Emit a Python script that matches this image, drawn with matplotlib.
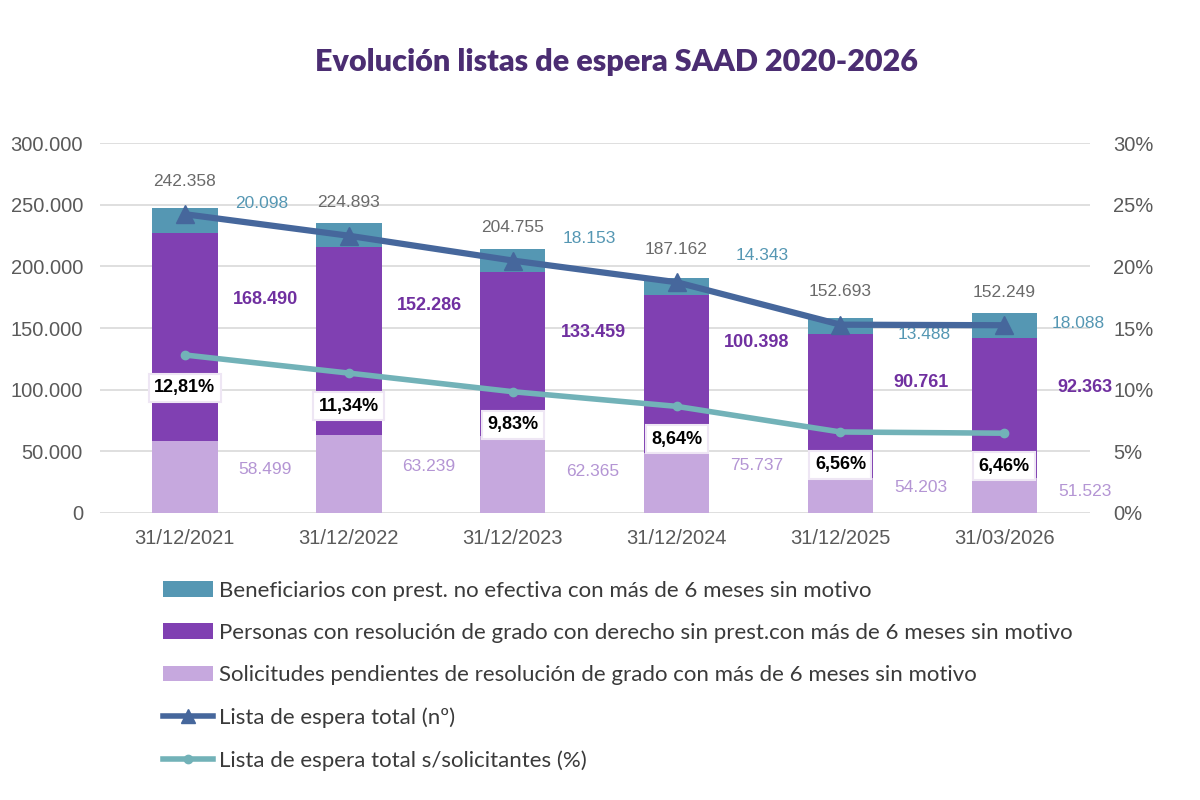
import matplotlib
matplotlib.use("Agg")
import matplotlib.pyplot as plt
from matplotlib.patches import Patch
from matplotlib.lines import Line2D
from matplotlib.ticker import FuncFormatter, MultipleLocator

# ---------------- data ----------------
categories = ["31/12/2021", "31/12/2022", "31/12/2023", "31/12/2024", "31/12/2025", "31/03/2026"]
solicitudes = [58499, 63239, 62365, 48900, 28100, 28000]
personas = [168490, 152286, 133459, 127900, 117000, 113600]
beneficiarios = [20098, 19500, 18153, 13500, 12800, 20300]
total_lista = [242358, 224893, 204755, 187162, 152693, 152249]
pct_lista = [12.81, 11.34, 9.83, 8.64, 6.56, 6.46]

solicitudes_labels = ["58.499", "63.239", "62.365", "75.737", "54.203", "51.523"]
personas_labels = ["168.490", "152.286", "133.459", "100.398", "90.761", "92.363"]
beneficiarios_labels = ["20.098", "19.368", "18.153", "14.343", "13.488", "18.088"]
total_labels = ["242.358", "224.893", "204.755", "187.162", "152.693", "152.249"]
pct_labels = ["12,81%", "11,34%", "9,83%", "8,64%", "6,56%", "6,46%"]

legend_labels = [
    "Beneficiarios con prest. no efectiva con más de 6 meses sin motivo",
    "Personas con resolución de grado con derecho sin prest.con más de 6 meses sin motivo",
    "Solicitudes pendientes de resolución de grado con más de 6 meses sin motivo",
    "Lista de espera total (nº)",
    "Lista de espera total s/solicitantes (%)",
]

# ---------------- layout (label placement) ----------------
ben_label_xoff = [0.47, 0.0, 0.47, 0.52, 0.51, 0.45]
ben_label_y = [250800, 228000, 223000, 209000, 145000, 154000]
pers_label_y = [172900, 168000, 146000, 138000, 105600, 101600]
sol_label_y = [35100, 37500, 33500, 38400, 20500, 17300]

# ---------------- style ----------------
c_ben = "#5597B3"
c_pers = "#8040B2"
c_sol = "#C6A8DE"
c_total = "#46679C"
c_pct = "#72B2B8"
c_grid = "#D9D9D9"
c_tick = "#5A5A5A"
FONT = "Liberation Sans"

plt.rcParams["font.family"] = [FONT, "DejaVu Sans"]

fig = plt.figure(figsize=(12, 8), dpi=100)
fig.patch.set_facecolor("white")
ax = fig.add_axes([0.083, 0.359, 0.825, 0.462])
ax2 = ax.twinx()

x = list(range(len(categories)))
w = 0.40
bottom2 = solicitudes
bottom3 = [a + b for a, b in zip(solicitudes, personas)]
ax.bar(x, solicitudes, w, color=c_sol, zorder=2)
ax.bar(x, personas, w, bottom=bottom2, color=c_pers, zorder=2)
ax.bar(x, beneficiarios, w, bottom=bottom3, color=c_ben, zorder=2)

# ben labels (under the total line)
for i, t in enumerate(beneficiarios_labels):
    ax.text(i + ben_label_xoff[i], ben_label_y[i], t, color=c_ben, fontsize=12.5,
            ha="center", va="center", zorder=3)

ax.plot(x, total_lista, color=c_total, lw=4.5, marker="^", markersize=13,
        zorder=5, solid_capstyle="round")

for i, t in enumerate(personas_labels):
    ax.text(i + 0.49, pers_label_y[i], t, color="#7030A0", fontsize=13, fontweight="bold",
            ha="center", va="center", zorder=6)
for i, t in enumerate(solicitudes_labels):
    ax.text(i + 0.49, sol_label_y[i], t, color="#B495D4", fontsize=12.5,
            ha="center", va="center", zorder=6)
for i, t in enumerate(total_labels):
    ax.annotate(t, (i, total_lista[i]), xytext=(0, 33), textcoords="offset pixels",
                color="#6A6A6A", fontsize=12.5, ha="center", va="center", zorder=6)

ax.set_ylim(0, 300000)
ax.set_xlim(-0.52, 5.52)
ax.yaxis.set_major_locator(MultipleLocator(50000))
ax.yaxis.set_major_formatter(FuncFormatter(lambda v, p: f"{int(v):,}".replace(",", ".")))
ax.grid(axis="y", color=c_grid, lw=1.2, zorder=0)
ax.set_axisbelow(True)
ax.set_xticks(x)
ax.set_xticklabels(categories)
for s in ax.spines.values():
    s.set_visible(False)
for s in ax2.spines.values():
    s.set_visible(False)
ax.tick_params(axis="both", length=0, labelsize=14.5, labelcolor=c_tick)
ax.tick_params(axis="x", pad=12)
ax.tick_params(axis="y", pad=12)

ax2.plot(x, pct_lista, color=c_pct, lw=4, marker="o", markersize=6, zorder=4)
for i, t in enumerate(pct_labels):
    ax2.annotate(t, (i, pct_lista[i]), xytext=(0, -33), textcoords="offset pixels",
                 color="black", fontsize=13, fontweight="bold", ha="center", va="center",
                 bbox=dict(boxstyle="square,pad=0.3", fc="white", ec="#EEE6F4", lw=1.5),
                 zorder=6)
ax2.set_ylim(0, 30)
ax2.yaxis.set_major_locator(MultipleLocator(5))
ax2.yaxis.set_major_formatter(FuncFormatter(lambda v, p: f"{int(v)}%"))
ax2.tick_params(axis="y", length=0, labelsize=14.5, labelcolor=c_tick, pad=17)

fig.text(0.514, 0.922, "Evolución listas de espera SAAD 2020-2026", ha="center", va="center",
         fontsize=22, fontweight="heavy", color="#4B2D72", family=["Lato", "DejaVu Sans"])

handles = [
    Patch(facecolor=c_ben),
    Patch(facecolor=c_pers),
    Patch(facecolor=c_sol),
    Line2D([], [], color=c_total, lw=4, marker="^", markersize=10),
    Line2D([], [], color=c_pct, lw=4, marker="o", markersize=6),
]
leg = fig.legend(handles, legend_labels, loc="upper left", bbox_to_anchor=(0.136, 0.274),
                 frameon=False, handlelength=2.25, handletextpad=0.25,
                 labelspacing=1.0, borderaxespad=0, borderpad=0,
                 prop={"family": ["Lato", "DejaVu Sans"], "size": 16})
for t in leg.get_texts():
    t.set_color("#3A3A3A")

fig.savefig("out.png", dpi=100, facecolor="white")
